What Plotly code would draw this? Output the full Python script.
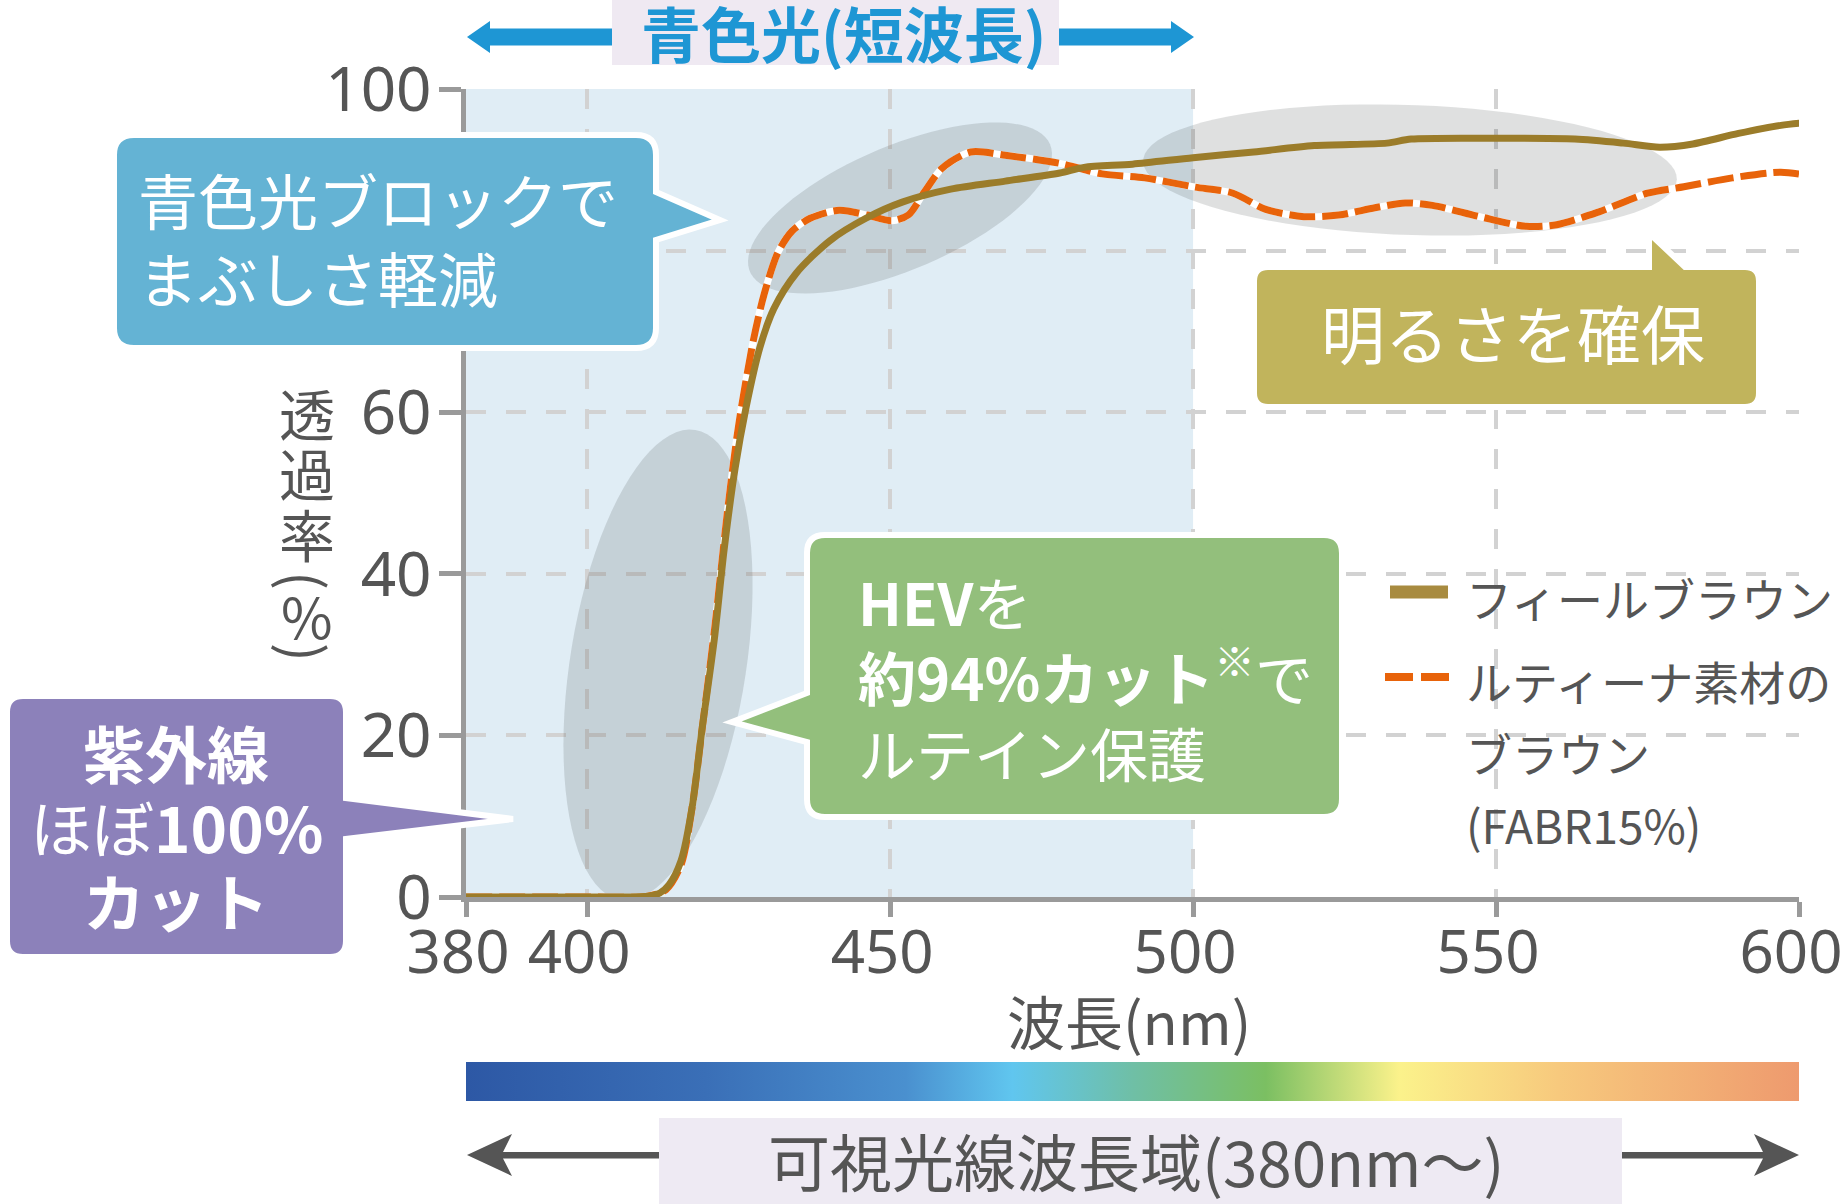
import numpy as np
import plotly.graph_objects as go

# transmittance (%), by wavelength (nm)
wl_feel = [380, 400, 410, 412, 413.5, 415.5, 417.3, 419, 421, 422.6, 424.4, 426.2,
           428.5, 430.8, 434.5, 440, 446, 452, 460, 469, 478, 482, 490, 500, 510,
           520, 532, 536, 550, 563, 571, 577, 582.5, 590, 597, 602]
trans_feel = [0, 0, 0.1, 0.5, 1.5, 4.5, 11, 21, 32, 43, 53, 60.5,
              68, 72.8, 77.2, 81.2, 84, 86, 87.6, 88.6, 89.6, 90.3, 90.7, 91.5, 92.2,
              93.0, 93.3, 93.8, 93.9, 93.8, 93.3, 92.8, 93.2, 94.5, 95.5, 95.9]

wl_lutina = [380, 400, 410, 413, 415.5, 417.3, 419, 421, 423.2, 425, 427.4, 429.2,
             431.5, 433.8, 436.8, 441.6, 446.2, 450.3, 453, 455.6, 458.6, 463.3, 469,
             478, 485, 492, 500, 506.6, 512, 518.3, 524, 530, 535, 539.5, 547.3, 555,
             560, 567, 575, 581, 589, 597, 602]
trans_lutina = [0, 0, 0.1, 0.9, 4, 11, 21, 33, 48, 58.4, 68.8, 74.6,
                79.8, 82.4, 84, 85, 84.4, 83.7, 84.4, 87.2, 90.2, 92.2, 91.8,
                90.8, 89.5, 89, 87.9, 87.1, 85.1, 84.2, 84.4, 85.3, 85.9, 85.6, 84.2, 83,
                83.2, 84.8, 87.1, 87.9, 89, 89.7, 89.2]

name_feel = "フィールブラウン"
name_lutina = ["ルティーナ素材の", "ブラウン", "(FABR15%)"]

x_ticks = [380, 400, 450, 500, 550, 600]
y_ticks = [0, 20, 40, 60, 80, 100]
y_labels = ["0", "20", "40", "60", "", "100"]   # the 80 label sits under the callout
blue_band = [380, 500]          # short-wavelength (blue light) region
spectrum_range = [380, 600]
spectrum_stops = [0, 0.18, 0.33, 0.41, 0.5, 0.6, 0.7, 0.82, 1]
spectrum_colors = ["#2d58a5", "#3a6fb7", "#4a90cf", "#60c6ef", "#6fbfa6",
                   "#7bbf62", "#fbf28b", "#f7c97d", "#ee9a6e"]

JP = "Noto Sans CJK JP"
NUM = "Noto Sans, sans-serif"
GRAY = "#555555"
AXIS = "#9a9a9a"

W, H = 1844, 1204
L, R, T, B = 466, 45, 89, 103
PW, PH = W - L - R, H - T - B
X0_PX, Y0_PX = 466, 897        # pixel of (380 nm, 0 %)
NM_PX = PW / 220
PCT_PX = (Y0_PX - T) / 100


def px(x):
    return (x - L) / PW


def py(y):
    return (H - B - y) / PH


def pt(x, y):
    return f"{px(x):.5f},{py(y):.5f}"


def poly(points):
    return "M" + " L".join(pt(x, y) for x, y in points) + " Z"


def bubble(x0, y0, x1, y1, r, side=None, t0=None, t1=None, tip=None):
    d = [f"M{pt(x0 + r, y0)}"]
    if side == "top":
        d += [f"L{pt(t0, y0)}", f"L{pt(*tip)}", f"L{pt(t1, y0)}"]
    d += [f"L{pt(x1 - r, y0)}", f"Q{pt(x1, y0)} {pt(x1, y0 + r)}"]
    if side == "right":
        d += [f"L{pt(x1, t0)}", f"L{pt(*tip)}", f"L{pt(x1, t1)}"]
    d += [f"L{pt(x1, y1 - r)}", f"Q{pt(x1, y1)} {pt(x1 - r, y1)}",
          f"L{pt(x0 + r, y1)}", f"Q{pt(x0, y1)} {pt(x0, y1 - r)}"]
    if side == "left":
        d += [f"L{pt(x0, t1)}", f"L{pt(*tip)}", f"L{pt(x0, t0)}"]
    d += [f"L{pt(x0, y0 + r)}", f"Q{pt(x0, y0)} {pt(x0 + r, y0)}", "Z"]
    return " ".join(d)


def ellipse(cx, cy, a, b, ang):
    # outline given in pixels, returned in data units so it sits between grid and lines
    t = np.linspace(0, 2 * np.pi, 90)
    c, s = np.cos(np.radians(ang)), np.sin(np.radians(ang))
    xs = cx + a * np.cos(t) * c - b * np.sin(t) * s
    ys = cy - (a * np.cos(t) * s + b * np.sin(t) * c)
    pts = [f"{380 + (x - X0_PX) / NM_PX:.3f},{(Y0_PX - y) / PCT_PX:.3f}" for x, y in zip(xs, ys)]
    return "M" + " L".join(pts) + " Z"


fig = go.Figure()

# spectrum strip under the chart
fig.add_trace(go.Scatter(
    x=[spectrum_range[0], spectrum_range[1], spectrum_range[1], spectrum_range[0]],
    y=[0, 0, 1, 1], yaxis="y2", mode="none", fill="toself",
    fillgradient=dict(type="horizontal",
                      colorscale=[[s, c] for s, c in zip(spectrum_stops, spectrum_colors)]),
    hoverinfo="skip", showlegend=False))

fig.add_trace(go.Scatter(x=wl_lutina, y=trans_lutina, mode="lines", hoverinfo="skip",
                         line=dict(color="white", width=7, shape="spline", smoothing=0.8),
                         showlegend=False))
fig.add_trace(go.Scatter(x=wl_lutina, y=trans_lutina, mode="lines", name="".join(name_lutina),
                         line=dict(color="#e8630a", width=7, dash="26px,7px",
                                   shape="spline", smoothing=0.8)))
fig.add_trace(go.Scatter(x=wl_feel, y=trans_feel, mode="lines", name=name_feel,
                         line=dict(color="#9b7c2a", width=7, shape="spline", smoothing=0.8)))

shapes = [
    dict(type="rect", xref="x", yref="y", x0=blue_band[0], x1=blue_band[1], y0=0, y1=100,
         fillcolor="#e0edf5", line_width=0, layer="below"),
]
ell = dict(type="path", xref="x", yref="y", fillcolor="rgba(55,60,65,0.16)",
           line_width=0, layer="between")
shapes += [dict(ell, path=ellipse(900, 208, 163, 62, 23)),
           dict(ell, path=ellipse(1410, 170, 267, 65, -2)),
           dict(ell, path=ellipse(658, 665, 238, 88, 81))]

top = dict(type="path", xref="paper", yref="paper", layer="above")
shapes += [
    # header: blue light arrows
    dict(top, type="rect", x0=px(612), x1=px(1059), y0=py(65), y1=py(0),
         fillcolor="#efe9f2", line_width=0),
    dict(top, path=poly([(467, 37), (490, 21), (490, 28.5), (612, 28.5), (612, 45.5),
                         (490, 45.5), (490, 53)]), fillcolor="#1e96d4", line_width=0),
    dict(top, path=poly([(1194, 37), (1171, 21), (1171, 28.5), (1059, 28.5), (1059, 45.5),
                         (1171, 45.5), (1171, 53)]), fillcolor="#1e96d4", line_width=0),
    # footer: visible wavelength arrows
    dict(top, type="rect", x0=px(659), x1=px(1622), y0=py(1204), y1=py(1118),
         fillcolor="#eeeaf3", line_width=0),
    dict(top, path=poly([(467, 1155), (512, 1134), (503, 1152), (659, 1152), (659, 1158.5),
                         (503, 1158.5), (512, 1176)]), fillcolor="#555555", line_width=0),
    dict(top, path=poly([(1799, 1155), (1754, 1134), (1763, 1152), (1622, 1152),
                         (1622, 1158.5), (1763, 1158.5), (1754, 1176)]),
         fillcolor="#555555", line_width=0),
    # callouts
    dict(top, path=bubble(114, 135, 656, 348, 20, "right", 192, 240, (720, 220)),
         fillcolor="#64b3d4", line=dict(color="white", width=6)),
    dict(top, path=bubble(1254, 267, 1759, 407, 14, "top", 1649, 1685, (1649, 233)),
         fillcolor="#c1b45c", line=dict(color="white", width=6)),
    dict(top, path=bubble(807, 535, 1342, 817, 18, "left", 693, 742, (732, 722)),
         fillcolor="#93bf7c", line=dict(color="white", width=6)),
    dict(top, path=bubble(7, 696, 346, 957, 16, "right", 798, 839, (513, 819)),
         fillcolor="#8c81ba", line=dict(color="white", width=6)),
    # legend symbols
    dict(type="line", xref="paper", yref="paper", x0=px(1390), x1=px(1448), y0=py(592),
         y1=py(592), line=dict(color="#a88b40", width=13)),
    dict(type="line", xref="paper", yref="paper", x0=px(1385), x1=px(1449), y0=py(677),
         y1=py(677), line=dict(color="#e8630a", width=8, dash="28px,8px")),
]


def note(x, y, text, size, color="white", anchor="center", align="center", angle=0):
    return dict(x=px(x), y=py(y), xref="paper", yref="paper", text=text, showarrow=False,
                xanchor=anchor, yanchor="middle", align=align, textangle=angle,
                font=dict(family=JP, size=size, color=color))


annotations = [
    note(843, 32, "<b>青色光(短波長)</b>", 60, "#1e96d4"),
    note(1136, 1160, "可視光線波長域(380nm〜)", 62, GRAY),
    note(1129, 1020, "波長(nm)", 58, GRAY),
    note(136, 237, "青色光ブロックで<br>まぶしさ軽減", 60, anchor="left", align="left"),
    note(1513, 331, "明るさを確保", 64),
    note(856, 676, "<b>HEV</b>を<br><b>約94%カット</b><sup>※</sup>で<br>ルテイン保護", 58,
         anchor="left", align="left"),
    note(176, 752, "<b>紫外線</b>", 62),
    note(176, 826, "ほぼ<b>100%</b>", 62),
    note(176, 900, "<b>カット</b>", 62),
    note(1464, 597, name_feel, 46, GRAY, anchor="left", align="left"),
]
for i, line in enumerate(name_lutina):
    annotations.append(note(1464, 680 + 72 * i, line, 46, GRAY, anchor="left", align="left"))
# vertical y-axis title (brackets turned for vertical writing)
for ch, yy, ang in zip(["透", "過", "率", "(", "%", ")"], [411, 471, 532, 580, 614, 652],
                       [0, 0, 0, 90, 0, 90]):
    annotations.append(note(307, yy, ch, 56, GRAY, angle=ang))

fig.update_layout(
    width=W, height=H,
    margin=dict(l=L, r=R, t=T, b=B, autoexpand=False),
    paper_bgcolor="white", plot_bgcolor="white",
    showlegend=False,
    shapes=shapes, annotations=annotations,
    xaxis=dict(range=spectrum_range, tickvals=x_ticks, ticks="outside",
               ticklen=15, tickwidth=5, tickcolor=AXIS, showline=True, linewidth=5,
               linecolor=AXIS, showgrid=True, gridcolor="#d2d2d2", gridwidth=4,
               griddash="20px,20px", zeroline=False, anchor="y", ticklabelstandoff=-16,
               ticklabelshift=-8, ticklabeloverflow="allow", automargin=False,
               tickfont=dict(family=NUM, size=60, color=GRAY)),
    yaxis=dict(domain=[py(Y0_PX), 1], range=[0, 100], tickvals=y_ticks, ticktext=y_labels,
               ticks="outside", ticklen=22, tickwidth=5, tickcolor=AXIS, showline=True,
               linewidth=5, linecolor=AXIS, showgrid=True, gridcolor="#d2d2d2", gridwidth=4,
               griddash="20px,20px", zeroline=False, ticklabelstandoff=-5, automargin=False,
               tickfont=dict(family=NUM, size=62, color=GRAY)),
    yaxis2=dict(domain=[0, py(1062)], range=[0, 1], visible=False, fixedrange=True),
)

fig.write_html("out.html", config={"displayModeBar": False},
               post_script="document.body.style.margin='0';")
